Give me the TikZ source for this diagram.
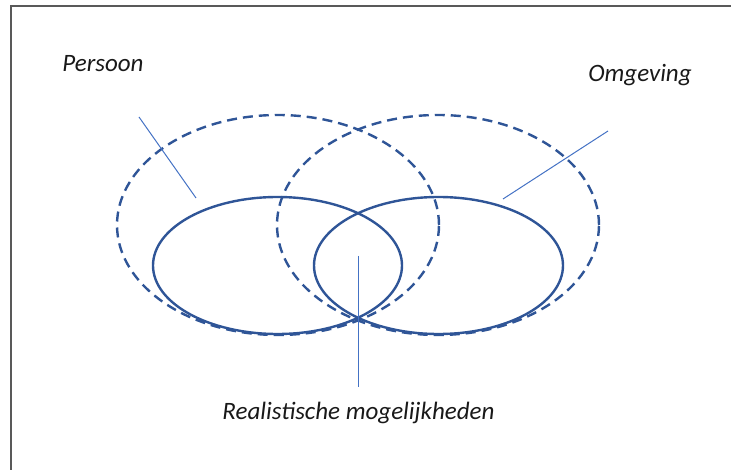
\documentclass[tikz,border=0pt]{standalone}
\usepackage{fontspec}
\setmainfont{Carlito}
\usetikzlibrary{shapes.geometric}
\definecolor{ringblue}{HTML}{2F5597}
\definecolor{leaderblue}{HTML}{4472C4}
\definecolor{framegray}{HTML}{595959}
\begin{document}
\begin{tikzpicture}[x=1pt,y=-1pt,
  ring/.style={ellipse, draw=ringblue, line width=2.4pt, inner sep=0pt},
  dashring/.style={ring, dash pattern=on 10pt off 6pt},
  leader/.style={draw=leaderblue, line width=1pt},
  lbl/.style={font=\fontsize{25}{29}\selectfont\itshape, text=black!90, inner sep=0pt, anchor=base}]
\useasboundingbox (0,0) rectangle (731,470);
\draw[framegray, line width=2pt] (11,472) -- (11,6) -- (733,6);
\node[dashring, minimum width=322pt, minimum height=220pt] (pd) at (278,225) {};
\node[dashring, minimum width=322pt, minimum height=220pt] (od) at (438,225) {};
\node[ring, minimum width=249pt, minimum height=137pt] (ps) at (277.5,265.5) {};
\node[ring, minimum width=249pt, minimum height=137pt] (os) at (438.5,265.5) {};
\node[lbl] (persoon) at (103,72) {Persoon};
\node[lbl] (omgeving) at (640,82) {Omgeving};
\node[lbl] (real) at (358.5,419) {Realistische mogelijkheden};
\coordinate (p1) at (139,117); \coordinate (p2) at (196,198);
\coordinate (o1) at (608,131); \coordinate (o2) at (503,199);
\coordinate (r1) at (358.5,256); \coordinate (r2) at (358.5,387);
\draw[leader] (p1) -- (p2);
\draw[leader] (o1) -- (o2);
\draw[leader] (r1) -- (r2);
\end{tikzpicture}
\end{document}
